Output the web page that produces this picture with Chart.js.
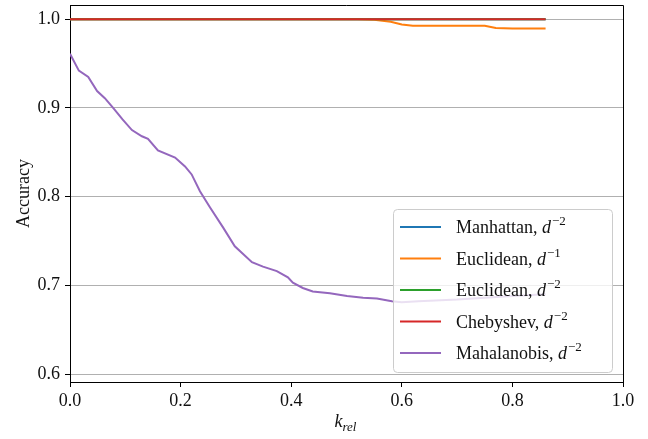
<!DOCTYPE html>
<html>
<head>
<meta charset="utf-8">
<script src="https://cdn.jsdelivr.net/npm/chart.js@4.4.1/dist/chart.umd.min.js"></script>
<style>
  html, body { margin: 0; padding: 0; background: #fff; }
  #wrap { width: 648px; height: 439px; }
</style>
</head>
<body>
<div id="wrap"><canvas id="accChart" width="648" height="439"></canvas></div>
<script>
// k_rel positions for the distance-weighted kNN runs
const kRel = [0, 0.1, 0.2, 0.3, 0.4, 0.5, 0.52, 0.55, 0.58, 0.6, 0.62, 0.65, 0.7, 0.75, 0.77, 0.8, 0.83, 0.86];
const manhattanD2 = [1, 1, 1, 1, 1, 1, 1, 1, 1, 1, 1, 1, 1, 1, 1, 1, 1, 1];
const euclideanD1 = [1, 1, 1, 1, 1, 1, 1, 0.9995, 0.997, 0.994, 0.9925, 0.9925, 0.9925, 0.9925, 0.990, 0.9895, 0.9895, 0.9895];
const euclideanD2 = [1, 1, 1, 1, 1, 1, 1, 1, 1, 1, 1, 1, 1, 1, 1, 1, 1, 1];
const chebyshevD2 = [1, 1, 1, 1, 1, 1, 1, 1, 1, 1, 1, 1, 1, 1, 1, 1, 1, 1];

// Mahalanobis was sampled on a finer grid
const kRelMaha = [0, 0.016, 0.033, 0.049, 0.063, 0.078, 0.095, 0.112, 0.13, 0.141, 0.159, 0.19, 0.208, 0.22,
  0.235, 0.253, 0.277, 0.298, 0.329, 0.349, 0.374, 0.394, 0.403, 0.421, 0.439, 0.47, 0.501, 0.53, 0.555,
  0.582, 0.6, 0.63, 0.66, 0.7, 0.75, 0.8, 0.86];
const mahalanobisD2 = [0.961, 0.942, 0.935, 0.919, 0.911, 0.900, 0.887, 0.875, 0.868, 0.865, 0.852, 0.844, 0.834, 0.825,
  0.806, 0.788, 0.765, 0.744, 0.726, 0.721, 0.716, 0.709, 0.703, 0.697, 0.693, 0.691, 0.688, 0.686, 0.685,
  0.682, 0.681, 0.682, 0.683, 0.684, 0.686, 0.688, 0.690];

const seriesNames = ['Manhattan', 'Euclidean', 'Euclidean', 'Chebyshev', 'Mahalanobis'];
const seriesExps = ['\u22122', '\u22121', '\u22122', '\u22122', '\u22122'];
const seriesColors = ['#1f77b4', '#ff7f0e', '#2ca02c', '#d62728', '#9467bd'];

const xTicks = [0, 0.2, 0.4, 0.6, 0.8, 1.0];
const yTicks = [0.6, 0.7, 0.8, 0.9, 1.0];

const SERIF = '"Liberation Serif", "DejaVu Serif", serif';

function pairs(xs, ys) {
  return xs.map((x, i) => ({ x, y: ys[i] }));
}

const seriesData = [
  pairs(kRel, manhattanD2),
  pairs(kRel, euclideanD1),
  pairs(kRel, euclideanD2),
  pairs(kRel, chebyshevD2),
  pairs(kRelMaha, mahalanobisD2)
];

// matplotlib draws later lines on top, so give them a lower order
const datasets = seriesNames.map((name, i) => ({
  label: `${name}, d^${seriesExps[i]}`,
  data: seriesData[i],
  borderColor: seriesColors[i],
  backgroundColor: seriesColors[i],
  borderWidth: 2,
  pointRadius: 0,
  tension: 0,
  fill: false,
  order: seriesNames.length - i
}));

// draws "name, d" with a superscript exponent
function drawMathLabel(ctx, x, y, name, exp, size) {
  ctx.textBaseline = 'alphabetic';
  ctx.textAlign = 'left';
  ctx.font = `${size}px ${SERIF}`;
  const head = name + ', ';
  ctx.fillText(head, x, y);
  x += ctx.measureText(head).width;
  ctx.font = `italic ${size}px ${SERIF}`;
  ctx.fillText('d', x, y);
  x += ctx.measureText('d').width + 1;
  ctx.font = `${Math.round(size * 0.72)}px ${SERIF}`;
  ctx.fillText(exp, x, y - size * 0.42);
}

const framePlugin = {
  id: 'frame',
  afterDraw(chart) {
    const { ctx, chartArea: a } = chart;
    ctx.save();

    // top and right spines
    ctx.strokeStyle = '#000';
    ctx.lineWidth = 1;
    ctx.beginPath();
    ctx.moveTo(a.left, a.top + 0.5);
    ctx.lineTo(a.right + 0.5, a.top + 0.5);
    ctx.lineTo(a.right + 0.5, a.bottom);
    ctx.stroke();

    // legend in the lower right corner
    const bw = 219, bh = 163;
    const bx = a.right - 11 - bw, by = a.bottom - 10 - bh;
    ctx.beginPath();
    ctx.roundRect(bx + 0.5, by + 0.5, bw, bh, 4);
    ctx.fillStyle = 'rgba(255,255,255,0.8)';
    ctx.fill();
    ctx.strokeStyle = '#cccccc';
    ctx.stroke();

    seriesNames.forEach((name, i) => {
      const cy = by + 18 + i * 31.5;
      ctx.strokeStyle = seriesColors[i];
      ctx.lineWidth = 2;
      ctx.beginPath();
      ctx.moveTo(bx + 7, cy);
      ctx.lineTo(bx + 48, cy);
      ctx.stroke();
      ctx.fillStyle = '#111';
      drawMathLabel(ctx, bx + 63, cy + 6, name, seriesExps[i], 18);
    });

    // x axis title k_rel
    const cx = (a.left + a.right) / 2 - 12;
    const ty = 427;
    ctx.fillStyle = '#111';
    ctx.font = `italic 18px ${SERIF}`;
    ctx.textBaseline = 'alphabetic';
    ctx.textAlign = 'left';
    ctx.fillText('k', cx, ty);
    const kw = ctx.measureText('k').width;
    ctx.font = `italic 13px ${SERIF}`;
    ctx.fillText('rel', cx + kw, ty + 4);

    ctx.restore();
  }
};

const chart = new Chart(document.getElementById('accChart'), {
  type: 'line',
  data: { datasets },
  options: {
    responsive: false,
    animation: false,
    layout: { padding: { top: 5, right: 25, left: 0, bottom: 0 } },
    plugins: {
      legend: { display: false },
      tooltip: { enabled: false }
    },
    scales: {
      x: {
        type: 'linear',
        min: 0,
        max: 1,
        afterBuildTicks: scale => { scale.ticks = xTicks.map(v => ({ value: v })); },
        afterFit: scale => {
          scale.height = 57;
          scale.paddingLeft = 0;
          scale.paddingRight = 0;
        },
        grid: { display: true, drawOnChartArea: false, tickLength: 5, tickColor: '#000' },
        border: { display: true, color: '#000', width: 1 },
        ticks: {
          padding: 3,
          maxRotation: 0,
          color: '#111',
          font: { family: SERIF, size: 18 },
          callback: v => Number(v).toFixed(1)
        }
      },
      y: {
        min: 0.591,
        max: 1.016,
        afterBuildTicks: scale => { scale.ticks = yTicks.map(v => ({ value: v })); },
        afterFit: scale => {
          scale.width = 70;
          scale.paddingTop = 0;
          scale.paddingBottom = 0;
        },
        grid: { color: '#b0b0b0', lineWidth: 1, tickLength: 5, tickColor: '#000' },
        border: { display: true, color: '#000', width: 1 },
        title: {
          display: true,
          text: 'Accuracy',
          color: '#111',
          font: { family: SERIF, size: 18 },
          padding: { top: 13, bottom: 0 }
        },
        ticks: {
          padding: 5,
          color: '#111',
          font: { family: SERIF, size: 18 },
          callback: v => Number(v).toFixed(1)
        }
      }
    }
  },
  plugins: [framePlugin]
});
</script>
</body>
</html>
